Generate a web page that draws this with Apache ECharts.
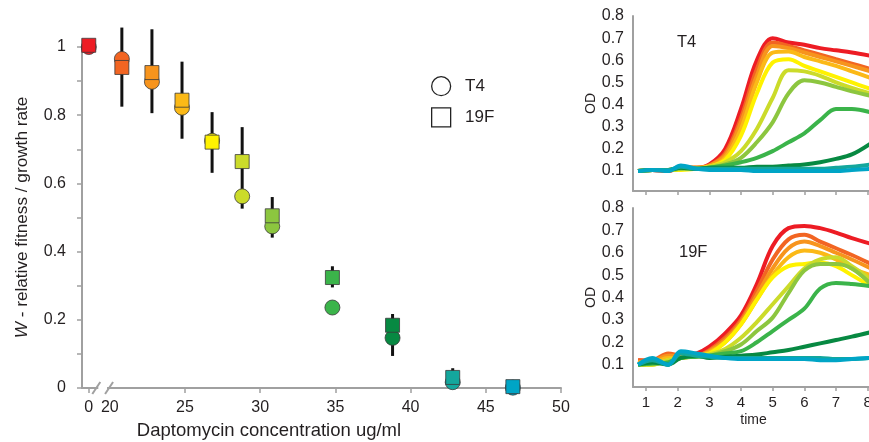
<!DOCTYPE html>
<html>
<head>
<meta charset="utf-8">
<script src="https://cdn.jsdelivr.net/npm/echarts@6/dist/echarts.min.js"></script>
<style>
  html, body { margin: 0; padding: 0; background: #fff; }
  #chart { width: 869px; height: 442px; }
</style>
</head>
<body>
<div id="chart"></div>
<script>
// daptomycin concentrations (ug/ml); 0 sits left of the axis break
const conc = [0, 20.8, 22.8, 24.8, 26.8, 28.8, 30.8, 34.8, 38.8, 42.8, 46.8];
const concColors = ['#ed1c24', '#f26522', '#f7941d', '#fbb917', '#fff200', '#cbdb2a',
                    '#8cc63f', '#3bb44a', '#078942', '#14a79d', '#00a5c6'];
const fitnessT4  = [1.0, 0.965, 0.898, 0.822, 0.725, 0.562, 0.474, 0.236, 0.147, 0.017, 0.001];
const fitness19F = [1.005, 0.94, 0.925, 0.844, 0.721, 0.664, 0.505, 0.324, 0.184, 0.031, 0.004];
const errLow  = [null, 0.825, 0.806, 0.731, 0.631, 0.526, 0.441, 0.295, 0.094, 0.02, null];
const errHigh = [null, 1.057, 1.052, 0.957, 0.809, 0.765, 0.56, 0.357, 0.217, 0.058, null];
const concTicks = [0, 20, 25, 30, 35, 40, 45, 50];
const ZERO_AT = 18.6; // where conc 0 is drawn on the broken axis

// growth curves, OD vs time, one row per concentration
const time = [0.75, 1.2, 1.7, 2.1, 2.6, 3, 3.5, 4, 4.5, 5, 5.5, 6, 6.5, 7, 7.5, 8.1];
const odT4 = [
  [0.10, 0.105, 0.10, 0.115, 0.115, 0.13, 0.20, 0.38, 0.60, 0.70, 0.68, 0.67, 0.655, 0.645, 0.635, 0.62],
  [0.10, 0.105, 0.10, 0.115, 0.115, 0.125, 0.18, 0.34, 0.56, 0.68, 0.665, 0.645, 0.625, 0.605, 0.585, 0.56],
  [0.10, 0.105, 0.105, 0.115, 0.115, 0.125, 0.17, 0.32, 0.53, 0.665, 0.655, 0.635, 0.615, 0.595, 0.575, 0.55],
  [0.10, 0.105, 0.105, 0.115, 0.115, 0.12, 0.16, 0.29, 0.50, 0.635, 0.64, 0.615, 0.595, 0.575, 0.55, 0.52],
  [0.10, 0.105, 0.105, 0.105, 0.11, 0.12, 0.15, 0.26, 0.45, 0.59, 0.605, 0.575, 0.55, 0.525, 0.50, 0.47],
  [0.10, 0.105, 0.105, 0.11, 0.11, 0.12, 0.14, 0.19, 0.29, 0.43, 0.555, 0.55, 0.53, 0.50, 0.475, 0.45],
  [0.10, 0.105, 0.105, 0.11, 0.11, 0.115, 0.13, 0.16, 0.23, 0.32, 0.45, 0.51, 0.50, 0.48, 0.46, 0.44],
  [0.10, 0.105, 0.105, 0.115, 0.11, 0.115, 0.125, 0.14, 0.16, 0.19, 0.23, 0.27, 0.33, 0.38, 0.38, 0.365],
  [0.10, 0.105, 0.105, 0.115, 0.11, 0.115, 0.115, 0.115, 0.12, 0.12, 0.125, 0.13, 0.14, 0.155, 0.175, 0.225],
  [0.10, 0.105, 0.105, 0.12, 0.11, 0.11, 0.11, 0.11, 0.11, 0.11, 0.11, 0.11, 0.11, 0.115, 0.12, 0.13],
  [0.10, 0.105, 0.10, 0.125, 0.11, 0.105, 0.105, 0.105, 0.10, 0.10, 0.10, 0.10, 0.10, 0.10, 0.105, 0.11]
];
const od19F = [
  [0.12, 0.115, 0.13, 0.14, 0.15, 0.18, 0.24, 0.32, 0.46, 0.63, 0.71, 0.72, 0.71, 0.69, 0.665, 0.64],
  [0.12, 0.12, 0.15, 0.14, 0.14, 0.165, 0.22, 0.30, 0.43, 0.57, 0.66, 0.68, 0.65, 0.62, 0.59, 0.55],
  [0.11, 0.115, 0.14, 0.14, 0.14, 0.16, 0.21, 0.29, 0.41, 0.53, 0.62, 0.65, 0.63, 0.60, 0.57, 0.53],
  [0.11, 0.11, 0.13, 0.13, 0.14, 0.155, 0.20, 0.28, 0.39, 0.50, 0.58, 0.61, 0.60, 0.57, 0.53, 0.50],
  [0.10, 0.10, 0.12, 0.13, 0.14, 0.15, 0.20, 0.28, 0.39, 0.49, 0.54, 0.55, 0.555, 0.54, 0.50, 0.45],
  [0.10, 0.10, 0.12, 0.13, 0.14, 0.145, 0.17, 0.22, 0.29, 0.37, 0.45, 0.53, 0.57, 0.58, 0.54, 0.48],
  [0.10, 0.105, 0.11, 0.13, 0.135, 0.14, 0.16, 0.19, 0.25, 0.31, 0.42, 0.52, 0.55, 0.55, 0.53, 0.46],
  [0.10, 0.105, 0.11, 0.13, 0.135, 0.14, 0.15, 0.16, 0.20, 0.25, 0.30, 0.35, 0.44, 0.465, 0.46, 0.45],
  [0.10, 0.11, 0.10, 0.13, 0.14, 0.13, 0.135, 0.14, 0.145, 0.155, 0.165, 0.18, 0.195, 0.21, 0.225, 0.245],
  [0.10, 0.12, 0.10, 0.15, 0.14, 0.135, 0.13, 0.13, 0.13, 0.13, 0.13, 0.13, 0.13, 0.125, 0.125, 0.13],
  [0.10, 0.13, 0.10, 0.16, 0.15, 0.14, 0.13, 0.125, 0.125, 0.125, 0.125, 0.125, 0.12, 0.12, 0.125, 0.13]
];
const odTicks = [0.1, 0.2, 0.3, 0.4, 0.5, 0.6, 0.7, 0.8];
const timeTicks = [1, 2, 3, 4, 5, 6, 7, 8];

const FONT = 'Liberation Sans';
const INK = '#231f20';
const AXIS_GREY = '#a0a0a0';

const pos = c => (c === 0 ? ZERO_AT : c);

const chart = echarts.init(document.getElementById('chart'));

const axisLine = { lineStyle: { color: AXIS_GREY, width: 2 } };

function odYAxis(gridIndex, min) {
  return {
    type: 'value', gridIndex, min, max: 0.8,
    axisLine: { show: true, ...axisLine },
    axisTick: { show: false },
    splitLine: { show: false },
    axisLabel: { customValues: odTicks, formatter: v => v.toFixed(1), fontSize: 16, color: INK, margin: 9 },
    name: 'OD', nameLocation: 'middle', nameGap: 35,
    nameTextStyle: { fontSize: 14, color: INK }
  };
}

function timeXAxis(gridIndex, showLabels) {
  return {
    type: 'value', gridIndex, min: 0.59, max: 8.2,
    axisLine: { show: true, onZero: false, ...axisLine },
    axisTick: { customValues: timeTicks, length: 4, lineStyle: { color: AXIS_GREY, width: 1.5 } },
    splitLine: { show: false },
    axisLabel: { show: showLabels, customValues: timeTicks, fontSize: 15, color: INK, margin: 8 },
    name: showLabels ? 'time' : '', nameLocation: 'middle', nameGap: 26,
    nameTextStyle: { fontSize: 14, color: INK }
  };
}

function curves(rows, axisIndex) {
  return rows.map((row, i) => ({
    type: 'line', xAxisIndex: axisIndex, yAxisIndex: axisIndex,
    data: time.map((t, j) => [t, row[j]]),
    smooth: 0.35, showSymbol: false, silent: true,
    lineStyle: { color: concColors[i], width: 4 },
    z: 2 + i * 0.01
  }));
}

const errData = conc.map((c, i) => [pos(c), errLow[i], errHigh[i]]).filter(d => d[1] != null);

const option = {
  animation: false,
  textStyle: { fontFamily: FONT },
  grid: [
    { left: 82, top: 47, width: 479, height: 341, outerBoundsMode: 'none' },
    { left: 633, top: 16, width: 241, height: 175, outerBoundsMode: 'none' },
    { left: 633, top: 208, width: 241, height: 179, outerBoundsMode: 'none' }
  ],
  title: [
    { text: 'T4', left: 672, top: 29, textStyle: { fontSize: 16.5, fontWeight: 'normal', color: INK, fontFamily: FONT } },
    { text: '19F', left: 674, top: 239, textStyle: { fontSize: 16.5, fontWeight: 'normal', color: INK, fontFamily: FONT } }
  ],
  legend: {
    orient: 'vertical', left: 426, top: 71,
    itemWidth: 19, itemHeight: 19, itemGap: 11,
    formatter: n => '  ' + n,
    textStyle: { fontSize: 17, color: INK },
    data: [
      { name: 'T4', icon: 'circle', itemStyle: { color: '#fff', borderColor: '#222', borderWidth: 1.3 } },
      { name: '19F', icon: 'rect', itemStyle: { color: '#fff', borderColor: '#222', borderWidth: 1.3 } }
    ]
  },
  xAxis: [
    {
      type: 'value', gridIndex: 0, min: 18.15, max: 50,
      axisLine: { show: true, onZero: false, ...axisLine },
      axisTick: { customValues: concTicks.filter(v => v !== 20).map(pos), length: 5,
                  lineStyle: { color: AXIS_GREY, width: 1.5 } },
      splitLine: { show: false },
      axisLabel: { customValues: concTicks.map(pos), formatter: v => (v === ZERO_AT ? '0' : String(v)),
                   fontSize: 16, color: INK, margin: 12 },
      name: 'Daptomycin concentration ug/ml', nameLocation: 'middle', nameGap: 33,
      nameTextStyle: { fontSize: 18.5, color: INK, padding: [0, 105, 0, 0] }
    },
    timeXAxis(1, false),
    timeXAxis(2, true)
  ],
  yAxis: [
    {
      type: 'value', gridIndex: 0, min: 0, max: 1, interval: 0.2,
      axisLine: { show: true, ...axisLine },
      axisTick: { length: 5, lineStyle: { color: AXIS_GREY, width: 1.5 } },
      minorTick: { show: true, splitNumber: 2, length: 5, lineStyle: { color: AXIS_GREY, width: 1.5 } },
      splitLine: { show: false },
      axisLabel: { fontSize: 16, color: INK, margin: 16 },
      name: '{i|W} - relative fitness / growth rate', nameLocation: 'middle', nameGap: 51,
      nameTextStyle: { fontSize: 17.2, color: INK, rich: { i: { fontStyle: 'italic', fontSize: 17.2, color: INK } } }
    },
    odYAxis(1, 0.01),
    odYAxis(2, 0)
  ],
  series: [
    {
      type: 'custom', xAxisIndex: 0, yAxisIndex: 0, silent: true,
      data: errData,
      renderItem(params, api) {
        const p1 = api.coord([api.value(0), api.value(1)]);
        const p2 = api.coord([api.value(0), api.value(2)]);
        return { type: 'line', shape: { x1: p1[0], y1: p1[1], x2: p2[0], y2: p2[1] },
                 style: { stroke: '#111', lineWidth: 3 } };
      },
      z: 1
    },
    {
      name: 'T4', type: 'scatter', xAxisIndex: 0, yAxisIndex: 0, clip: false,
      symbol: 'circle', symbolSize: 15,
      data: conc.map((c, i) => [pos(c), fitnessT4[i]]),
      itemStyle: { color: p => concColors[p.dataIndex], borderColor: '#3a3a3a', borderWidth: 0.8, opacity: 1 },
      z: 3
    },
    {
      name: '19F', type: 'scatter', xAxisIndex: 0, yAxisIndex: 0, clip: false,
      symbol: 'rect', symbolSize: 14,
      data: conc.map((c, i) => [pos(c), fitness19F[i]]),
      itemStyle: { color: p => concColors[p.dataIndex], borderColor: '#3a3a3a', borderWidth: 0.8, opacity: 1 },
      z: 4
    },
    ...curves(odT4, 1),
    ...curves(od19F, 2)
  ]
};

chart.setOption(option);

// axis break marks between 0 and 20
const a = chart.convertToPixel({ gridIndex: 0 }, [19.1, 0]);
const b = chart.convertToPixel({ gridIndex: 0 }, [19.95, 0]);
const slash = x => ({ type: 'line', shape: { x1: x - 4, y1: a[1] + 6, x2: x + 4, y2: a[1] - 6 },
                      style: { stroke: AXIS_GREY, lineWidth: 2 }, z: 10 });
chart.setOption({
  graphic: [
    { type: 'rect', shape: { x: a[0] + 2, y: a[1] - 3, width: b[0] - a[0] - 4, height: 6 },
      style: { fill: '#fff' }, z: 9 },
    slash(a[0]),
    slash(b[0])
  ]
});
</script>
</body>
</html>
